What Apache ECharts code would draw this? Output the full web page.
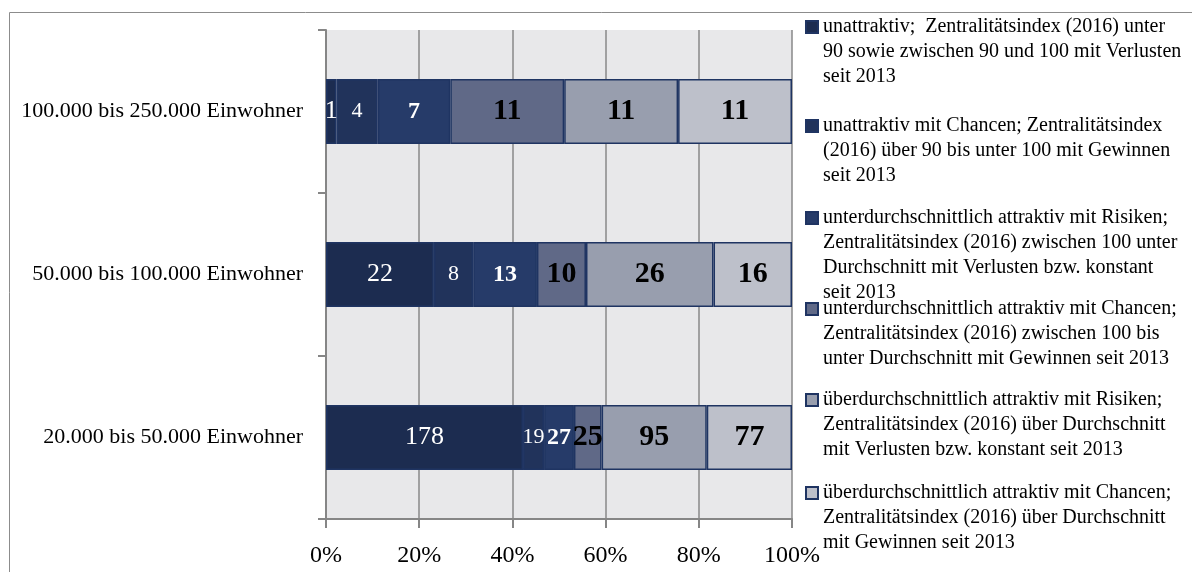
<!DOCTYPE html>
<html>
<head>
<meta charset="utf-8">
<script src="https://cdn.jsdelivr.net/npm/echarts@6/dist/echarts.min.js"></script>
<style>
  html, body { margin: 0; padding: 0; background: #fff; }
  #chart { width: 1192px; height: 572px; }
</style>
</head>
<body>
<div id="chart"></div>
<script>
// categories, top to bottom
const categories = [
  "100.000 bis 250.000 Einwohner",
  "50.000 bis 100.000 Einwohner",
  "20.000 bis 50.000 Einwohner"
];

// counts per group (same order as categories)
const unattraktiv = [1, 22, 178];
const unattraktivChancen = [4, 8, 19];
const unterRisiken = [7, 13, 27];
const unterChancen = [11, 10, 25];
const ueberRisiken = [11, 26, 95];
const ueberChancen = [11, 16, 77];

const xTicks = [0, 20, 40, 60, 80, 100];

const legendLabels = [
  "unattraktiv;  Zentralitätsindex (2016) unter\n90 sowie zwischen 90 und 100 mit Verlusten\nseit 2013",
  "unattraktiv mit Chancen; Zentralitätsindex\n(2016) über 90 bis unter 100 mit Gewinnen\nseit 2013",
  "unterdurchschnittlich attraktiv mit Risiken;\nZentralitätsindex (2016) zwischen 100 unter\nDurchschnitt mit Verlusten bzw. konstant\nseit 2013",
  "unterdurchschnittlich attraktiv mit Chancen;\nZentralitätsindex (2016) zwischen 100 bis\nunter Durchschnitt mit Gewinnen seit 2013",
  "überdurchschnittlich attraktiv mit Risiken;\nZentralitätsindex (2016) über Durchschnitt\nmit Verlusten bzw. konstant seit 2013",
  "überdurchschnittlich attraktiv mit Chancen;\nZentralitätsindex (2016) über Durchschnitt\nmit Gewinnen seit 2013"
];

const groups = [unattraktiv, unattraktivChancen, unterRisiken, unterChancen, ueberRisiken, ueberChancen];
const totals = categories.map((c, i) => groups.reduce((s, g) => s + g[i], 0));

const FONT = "Liberation Serif";
const colors = ["#1c2c50", "#21335b", "#263b69", "#606987", "#989eae", "#bdc0ca"];
const labelStyles = [
  { color: "#fff", fontWeight: "normal", fontSize: 26 },
  { color: "#fff", fontWeight: "normal", fontSize: 22 },
  { color: "#fff", fontWeight: "bold", fontSize: 24 },
  { color: "#000", fontWeight: "bold", fontSize: 30 },
  { color: "#000", fontWeight: "bold", fontSize: 30 },
  { color: "#000", fontWeight: "bold", fontSize: 30 }
];
// vertical centre of each legend icon
const legendCenters = [27, 126, 218, 309, 400, 493];
const LH = 25;

const chart = echarts.init(document.getElementById("chart"));

const seriesNames = legendLabels.map(t => t.replace(/\n/g, " "));

chart.setOption({
  animation: false,
  grid: {
    left: 326, right: 400, top: 30, bottom: 53,
    show: true, backgroundColor: "#e8e8ea", borderWidth: 0
  },
  graphic: [{
    type: "rect",
    shape: { x: 9.5, y: 12.5, width: 1400, height: 800 },
    style: { fill: "none", stroke: "#8c8c8c", lineWidth: 1 },
    silent: true
  }],
  legend: legendLabels.map((txt, i) => {
    const n = txt.split("\n").length;
    // leading empty lines so the first text line sits level with the icon
    const shown = "\n".repeat(n - 1) + txt;
    return {
      data: [seriesNames[i]],
      left: 805,
      top: legendCenters[i] - (2 * n - 1) * LH / 2,
      orient: "vertical",
      padding: 0,
      icon: "rect",
      itemWidth: 12,
      itemHeight: 12,
      selectedMode: false,
      formatter: () => shown,
      textStyle: { fontFamily: FONT, fontSize: 20, lineHeight: LH, color: "#000" }
    };
  }),
  xAxis: {
    type: "value",
    min: xTicks[0],
    max: xTicks[xTicks.length - 1],
    interval: xTicks[1] - xTicks[0],
    axisLine: { show: true, lineStyle: { color: "#868686", width: 2 } },
    axisTick: { show: true, length: 9, lineStyle: { color: "#868686", width: 2 } },
    splitLine: { show: true, lineStyle: { color: "#898989", width: 1.5 } },
    axisLabel: {
      formatter: "{value}%", color: "#000", fontFamily: FONT, fontSize: 24, margin: 25
    }
  },
  yAxis: {
    type: "category",
    data: categories,
    inverse: true,
    axisLine: { show: true, lineStyle: { color: "#868686", width: 2 } },
    axisTick: { show: true, length: 8, lineStyle: { color: "#868686", width: 2 } },
    axisLabel: { color: "#000", fontFamily: FONT, fontSize: 22, margin: 23 }
  },
  series: groups.map((g, si) => ({
    name: seriesNames[si],
    type: "bar",
    stack: "total",
    barWidth: "40%",
    color: colors[si],
    itemStyle: { borderColor: "#1f3462", borderWidth: 1.5 },
    label: {
      show: true,
      position: "inside",
      fontFamily: FONT,
      ...labelStyles[si],
      formatter: p => String(g[p.dataIndex])
    },
    data: g.map((v, i) => v / totals[i] * 100)
  }))
});
</script>
</body>
</html>
